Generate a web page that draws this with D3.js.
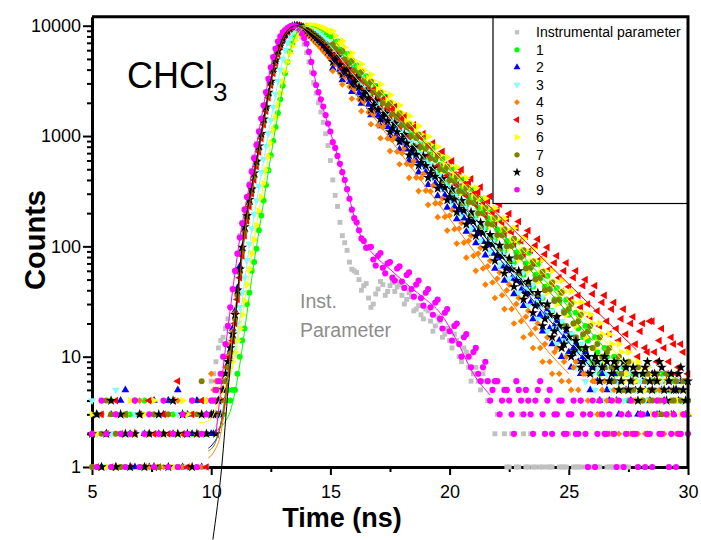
<!DOCTYPE html>
<html>
<head>
<meta charset="utf-8">
<script src="https://cdn.jsdelivr.net/npm/d3@7"></script>
<style>
  body { margin: 0; background: #fff; }
  svg { display: block; font-family: "Liberation Sans", Arial, sans-serif; }
</style>
</head>
<body>
<div id="chart"></div>
<script>
// decay channels (ns)
const timeNs = [
  5.0,5.2,5.4,5.6,5.8,6.0,6.2,6.4,6.6,6.8,7.0,7.2,7.4,7.6,7.8,8.0,8.2,8.4,8.6,8.8,9.0,9.2,9.4,9.6,9.8,10.0,
  10.1,10.2,10.3,10.4,10.5,10.6,10.7,10.8,10.9,11.0,
  11.1,11.2,11.3,11.4,11.5,11.6,11.7,11.8,11.9,12.0,
  12.1,12.2,12.3,12.4,12.5,12.6,12.7,12.8,12.9,13.0,
  13.1,13.2,13.3,13.4,13.5,13.6,13.7,13.8,13.9,14.0,
  14.1,14.2,14.3,14.4,14.5,14.6,14.7,14.8,14.9,15.0,
  15.2,15.4,15.6,15.8,16.0, 16.2,16.4,16.6,16.8,17.0, 17.2,17.4,17.6,17.8,18.0,
  18.2,18.4,18.6,18.8,19.0, 19.2,19.4,19.6,19.8,20.0, 20.2,20.4,20.6,20.8,21.0,
  21.2,21.4,21.6,21.8,22.0, 22.2,22.4,22.6,22.8,23.0, 23.2,23.4,23.6,23.8,24.0,
  24.2,24.4,24.6,24.8,25.0, 25.2,25.4,25.6,25.8,26.0, 26.2,26.4,26.6,26.8,27.0,
  27.2,27.4,27.6,27.8,28.0, 28.2,28.4,28.6,28.8,29.0, 29.2,29.4,29.6,29.8,30.0
];
// in-between channels of the decay part (ns)
const timeNsOdd = [
  15.1,15.3,15.5,15.7,15.9, 16.1,16.3,16.5,16.7,16.9, 17.1,17.3,17.5,17.7,17.9,
  18.1,18.3,18.5,18.7,18.9, 19.1,19.3,19.5,19.7,19.9, 20.1,20.3,20.5,20.7,20.9,
  21.1,21.3,21.5,21.7,21.9, 22.1,22.3,22.5,22.7,22.9, 23.1,23.3,23.5,23.7,23.9,
  24.1,24.3,24.5,24.7,24.9, 25.1,25.3,25.5,25.7,25.9, 26.1,26.3,26.5,26.7,26.9,
  27.1,27.3,27.5,27.7,27.9, 28.1,28.3,28.5,28.7,28.9, 29.1,29.3,29.5,29.7,29.9
];

// counts per channel (0 = empty channel, not drawn on the log axis)
const instCounts = [
  1,2,0,1,2,1,3,1,0,2,1,2,1,0,1,2,1,1,2,0,1,2,1,2,3,6,
  7,9,12,14,15,18,22,28,40,58,
  85,125,165,220,285,370,490,650,860,1120,
  1450,1880,2420,3100,3900,4800,5800,6800,7700,8500,
  9100,9550,9850,10000,9900,9500,8800,7900,6800,5700,
  4700,3800,3050,2450,2000,1650,1330,1050,820,600,
  290,165,108,72,60, 50,44,34,30,41, 45,39,47,43,36,
  33,35,27,24,27, 21,19,21,16,14, 16,10,12,8,7,
  6,7,4,5,3, 4,1,2,1,3, 1,2,1,1,2,
  1,0,1,1,2, 1,1,0,1,1, 1,0,1,1,0,
  1,1,0,0,0, 0,0,0,0,0, 0,0,0,0,0
];
const instCountsOdd = [
  400,230,125,92,62, 58,40,46,28,37, 48,36,44,39,45, 30,38,26,29,22, 26,17,23,15,18,
  12,14,9,11,6, 8,5,6,4,2, 3,2,1,2,1, 2,1,1,0,1, 1,1,0,1,1, 0,1,1,1,0,
  1,1,0,1,1, 1,0,1,0,0, 0,0,0,0,0, 0,0,0,0,0
];
const counts1 = [
  2,3,1,2,4,3,1,2,3,2,1,4,2,3,1,2,4,3,2,1,3,2,4,3,2,4,
  3,4,3,4,3,4,5,4,5,5,
  7,10,14,18,30,38,60,72,95,140,
  190,260,360,490,670,900,1200,1620,2150,2850,
  3700,4700,5800,6900,7900,8700,9300,9700,9920,10000,
  9980,9900,9760,9580,9370,9130,8870,8600,8320,8030,
  7050,6100,5500,4650,4150, 3650,3250,2980,2620,2390, 2080,1930,1670,1550,1330,
  1240,1060,990,840,790, 680,620,545,500,440, 405,350,325,280,260,
  225,205,180,164,142, 130,112,104,88,82, 70,64,55,51,43,
  40,33,31,26,24, 20,18,15,14,12, 11,9,10,8,7,
  6,7,5,6,5, 6,4,5,6,4, 5,6,4,5,4
];
const counts1Odd = [
  6770,7210,5100,5560,3870, 4360,2990,3490,2400,2850, 1920,2280,1530,1850,1220,
  1490,963,1190,757,962, 601,766,476,626,375, 506,301,411,236,329,
  189,269,146,215,116, 174,91,138,71,110, 55,87,43,69,34,
  54,26,42,20,33, 16,25,12,19,9, 15,7,12,6,10,
  5,8,4,7,4, 7,4,6,4,7, 3,7,4,6,4
];
const counts2 = [
  2,3,1,2,3,1,4,5,2,1,3,2,1,4,2,3,4,2,5,1,3,2,4,1,3,2,
  2,3,3,4,6,6,10,11,18,26,
  42,66,95,142,200,250,345,440,610,790,
  1070,1390,1860,2430,3170,3980,4920,5860,6870,7680,
  8470,9030,9510,9800,9980,9990,9850,9600,9240,8850,
  8480,8120,7790,7430,7080,6760,6390,5960,5600,5250,
  4470,4010,3580,3110,2830, 2460,2240,1930,1770,1540, 1400,1210,1110,960,880,
  760,700,595,550,470, 435,372,345,290,272, 230,212,180,168,142,
  132,110,104,86,81, 66,64,51,50,40, 39,31,30,24,24,
  18,19,14,15,11, 12,9,10,7,8, 6,7,5,6,4,
  6,5,4,5,3, 5,4,6,3,4, 5,3,4,5,3
];
const counts2Odd = [
  4120,4650,3220,3670,2520, 2900,1970,2330,1550,1850, 1230,1460,960,1180,760,
  930,600,740,470,585, 362,475,286,373,225, 300,177,234,136,185,
  107,147,83,116,63, 91,49,71,37,57, 29,45,22,35,17,
  27,13,21,10,17, 8,13,7,11,5, 9,4,8,4,7,
  3,7,3,6,3, 6,3,7,3,5, 6,3,5,6,3
];
const counts3 = [
  4,2,3,1,2,5,3,2,1,3,4,2,1,3,2,4,1,2,3,2,1,4,2,3,1,4,
  3,4,3,5,5,6,8,9,12,14,
  20,28,38,52,75,105,145,195,260,350,
  470,620,810,1060,1390,1830,2400,3150,4000,5000,
  6000,7000,7850,8550,9100,9500,9800,9960,10000,9960,
  9850,9680,9400,9080,8700,8300,7880,7450,7000,6550,
  5720,5000,4520,3900,3560, 3100,2820,2450,2230,1940, 1770,1530,1400,1210,1110,
  950,880,750,700,590, 550,470,440,370,345, 285,262,222,200,172,
  150,140,118,110,92, 86,70,66,54,50, 41,39,31,30,24,
  23,18,18,14,14, 11,11,9,9,7, 8,6,7,5,6,
  7,5,6,5,6, 4,5,3,5,4, 3,5,4,3,4
];
const counts3Odd = [
  6730,4700,5230,3700,4100, 2920,3310,2290,2620,1790, 2110,1420,1670,1110,1330,
  875,1060,680,840,540, 672,417,537,330,428, 251,328,193,253,144,
  196,113,156,89,126, 68,97,51,77,38, 58,29,45,22,35,
  17,26,13,21,10, 16,8,13,6,10, 5,9,4,8,4,
  8,4,7,4,7, 3,6,5,3,6, 4,3,6,4,5
];
const counts4 = [
  2,1,3,2,4,1,2,3,1,2,4,2,1,3,2,1,3,2,4,1,2,3,2,1,4,7,
  5,6,5,6,7,8,10,13,17,25,
  37,60,92,140,200,255,350,450,590,790,
  1040,1400,1840,2440,3150,4000,4900,5900,6800,7700,
  8450,9050,9500,9800,9960,10000,9850,9550,9150,8600,
  8150,7750,7300,6950,6600,6250,5900,5600,5300,5000,
  4500,3700,3450,2800,2650, 2150,2050,1640,1560,1250, 1200,950,920,720,700,
  560,540,420,415,320, 315,245,245,185,190, 143,145,108,112,82,
  86,63,66,47,51, 36,40,27,30,21, 23,16,18,12,13,
  9,11,7,9,6, 8,5,7,4,6, 3,5,4,2,4,
  3,5,2,4,3, 2,4,3,5,2, 3,4,2,3,4
];
const counts4Odd = [
  3890,4810,2930,3730,2180, 2870,1680,2200,1280,1700, 955,1300,730,990,555,
  780,418,595,317,455, 238,356,184,272,139, 214,106,163,79,125,
  60,97,45,74,34, 58,27,45,20,34, 15,26,12,20,9,
  15,7,12,6,10, 5,9,4,7,3, 6,3,6,2,5,
  2,5,2,4,2, 4,2,5,3,4, 3,5,2,4,3
];
const counts5 = [
  2,1,3,2,1,4,2,3,1,2,3,1,4,2,1,3,2,4,6,2,1,3,2,4,1,3,
  3,4,3,5,4,6,8,10,14,20,
  33,52,82,125,170,230,300,400,530,720,
  950,1270,1680,2230,2900,3700,4550,5500,6450,7350,
  8150,8800,9300,9650,9880,9990,10000,9880,9650,9300,
  8950,8600,8250,7920,7600,7240,6890,6570,6250,5960,
  5550,4780,4560,3930,3750, 3230,3100,2650,2550,2180, 2110,1790,1740,1470,1430,
  1200,1190,985,975,810, 810,665,670,545,550, 445,455,365,375,300,
  310,245,258,200,215, 165,178,135,148,112, 124,92,102,76,85,
  62,71,52,60,43, 52,36,44,30,37, 26,31,21,27,18,
  22,16,20,13,17, 12,21,11,14,12, 9,13,8,11,7
];
const counts5Odd = [
  5060,5670,4110,4660,3340, 3900,2720,3210,2240,2690, 1820,2210,1500,1840,1220,
  1520,990,1260,800,1050, 665,866,534,725,438, 594,360,497,289,409,
  238,345,191,284,157, 241,128,198,104,168, 85,139,70,116,56,
  98,46,82,39,71, 33,60,28,50,23, 44,19,36,16,31,
  14,27,12,23,10, 20,11,21,9,18, 7,15,7,13,6
];
const counts6 = [
  3,2,4,1,3,2,1,3,4,2,1,3,2,4,1,2,3,1,2,4,3,1,2,3,4,3,
  4,3,4,5,5,6,7,8,9,11,
  14,18,24,32,45,62,86,115,155,210,
  280,370,490,650,860,1140,1480,1920,2450,3100,
  3850,4700,5600,6500,7350,8100,8750,9250,9600,9830,
  9950,10000,9990,9930,9820,9680,9510,9320,9100,8880,
  8100,6900,6350,5250,4850, 4100,3950,3300,3150,2640, 2530,2110,2030,1690,1620,
  1350,1300,1080,1040,860, 835,690,665,550,535, 440,430,350,345,280,
  276,225,222,178,178, 142,143,113,115,90, 92,72,74,57,60,
  45,48,36,39,28, 31,22,25,17,20, 14,16,11,13,9,
  11,7,9,6,8, 5,7,4,6,5, 3,5,4,6,3
];
const counts6Odd = [
  8900,6730,7280,5080,5650, 3920,4500,3140,3610,2480, 2940,1990,2360,1570,1900,
  1260,1520,995,1230,795, 990,630,800,496,640, 398,522,310,417,249,
  339,199,272,155,222, 124,178,97,146,76, 118,60,95,48,76,
  38,60,30,49,24, 39,19,31,15,24, 12,20,9,16,8,
  13,6,11,5,9, 4,8,3,7,4, 6,3,6,3,5
];
const counts7 = [
  1,3,2,4,3,2,1,3,2,4,3,1,2,3,1,2,3,2,1,3,2,4,3,6,2,3,
  3,4,3,4,5,6,8,11,15,22,
  36,58,90,135,185,250,320,430,565,760,
  1000,1340,1760,2340,3030,3880,4750,5750,6700,7600,
  8350,8980,9430,9760,9940,10000,9960,9820,9590,9300,
  9000,8700,8400,8100,7800,7500,7200,6900,6620,6350,
  6200,5800,4950,4650,3950, 3700,3130,2950,2500,2360, 1990,1880,1580,1500,1260,
  1200,1000,960,795,765, 630,610,500,487,398, 390,317,311,252,248,
  200,199,160,158,127, 126,100,101,80,80, 63,64,50,52,40,
  41,32,33,25,27, 20,21,16,17,12, 13,10,11,8,9,
  7,8,6,7,5, 6,5,6,4,5, 6,4,5,6,4
];
const counts7Odd = [
  6770,5280,5900,4220,4800, 3320,3810,2610,3100,2090, 2470,1640,1980,1310,1600,
  1030,1270,813,1030,640, 819,508,662,395,528, 315,429,245,342,195,
  279,151,223,121,182, 95,143,74,117,58, 92,46,73,37,59,
  29,47,23,38,19, 30,15,24,12,19, 9,15,8,12,6,
  10,5,9,5,8, 4,7,4,7,3, 7,4,6,4,6
];
const counts8 = [
  2,3,1,2,4,1,3,2,1,2,3,1,2,1,3,2,1,4,2,3,2,1,2,3,2,3,
  3,2,4,3,5,7,9,12,16,24,
  40,62,98,150,190,265,330,460,590,810,
  1050,1420,1830,2480,3120,4030,4870,5920,6830,7720,
  8430,9070,9480,9820,9960,10000,9890,9660,9280,8920,
  8580,8300,7940,7680,7320,7050,6590,6260,5850,5560,
  4880,4420,3860,3490,3050, 2770,2400,2190,1890,1730, 1500,1370,1180,1090,930,
  860,730,680,575,540, 455,430,355,340,280, 268,220,212,172,168,
  136,133,106,104,83, 81,63,62,49,47, 37,38,29,30,22,
  24,17,19,13,15, 11,12,9,10,8, 9,8,9,7,8,
  6,8,6,7,5, 8,6,7,9,5, 6,5,7,5,6
];
const counts8Odd = [
  4700,5200,3640,4040,2940, 3340,2240,2520,1730,2080, 1420,1600,1090,1300,890,
  1030,670,790,540,660, 420,510,335,410,262, 330,204,260,158,204,
  124,164,97,128,74, 102,57,78,43,60, 33,48,25,38,19,
  30,15,23,12,18, 10,14,8,12,7, 10,6,10,6,9,
  5,9,5,8,4, 7,9,5,6,8, 4,7,5,8,4
];
const counts9 = [
  2,1,4,2,1,3,2,1,2,4,1,2,3,1,2,4,1,2,1,3,2,4,1,2,3,4,
  4,5,6,7,10,13,19,28,41,60,
  86,120,162,215,280,360,475,630,830,1100,
  1440,1900,2500,3300,4200,5200,6200,7200,8000,8700,
  9150,9500,9800,10000,9950,9700,9200,8500,7700,6900,
  5800,4700,3700,2900,2500,2150,1850,1550,1300,1100,
  780,560,400,270,180, 140,112,98,76,82, 64,70,52,63,48,
  55,41,45,34,38, 28,31,22,25,17, 19,13,15,10,11,
  7,8,6,5,6, 4,5,3,6,4, 5,3,4,6,2,
  5,3,4,2,3, 4,2,3,1,4, 2,3,2,4,1,
  3,2,4,2,3, 1,2,3,2,4, 1,3,2,3,2
];
const counts9Odd = [
  880,660,470,330,215, 165,118,97,99,67, 87,57,72,49,66,
  42,58,35,49,29, 41,24,33,18,27, 14,20,10,16,8,
  12,6,9,4,6, 3,5,4,2,5, 3,4,2,5,3,
  4,2,3,4,2, 3,2,4,2,3, 1,4,2,3,2,
  4,1,3,2,1, 3,2,1,4,2, 3,2,1,2,3
];

// fitted decay curves: [time ns, counts]
const fit1 = [[10.3,2.2],[10.6,2.6],[10.8,3.2],[11.0,4.8],[11.2,8.5],[11.4,17],[11.6,36],[11.8,72],[12.0,135],[12.2,255],[12.4,480],[12.6,880],[12.8,1580],[13.0,2750],[13.2,4600],[13.4,6800],[13.6,8650],[13.8,9700],[14.0,10000],[14.3,9780],[14.6,9150],[15.0,8000],[15.5,6000],[16.4,3300],[18,1330],[20,445],[22,148],[24,49],[26.5,12]];
const fit2 = [[9.88,1.48],[10.09,1.64],[10.3,2.0],[10.5,3.2],[10.7,7],[10.9,15],[11.1,38],[11.3,92],[11.5,190],[11.7,340],[11.9,600],[12.1,1060],[12.3,1850],[12.5,3150],[12.7,4900],[12.9,6850],[13.1,8450],[13.3,9500],[13.5,9960],[13.7,9850],[14.0,8850],[14.5,7080],[15.0,5250],[16,2830],[18,880],[20,272],[22,82],[24,24],[26,7.7]];
const fit3 = [[10.1,2.2],[10.4,3],[10.7,5.5],[11.0,11],[11.2,22],[11.4,48],[11.6,100],[11.8,190],[12.0,345],[12.2,610],[12.4,1060],[12.6,1820],[12.8,3100],[13.0,4950],[13.2,6950],[13.4,8550],[13.6,9500],[13.8,9960],[14.0,9960],[14.5,8700],[15.0,6550],[16,3540],[18,1090],[20,340],[22,96],[24,26],[26,8.3]];
const fit4 = [[9.88,1.2],[10.16,1.43],[10.37,1.88],[10.55,3.2],[10.75,8],[10.95,20],[11.15,46],[11.35,110],[11.6,255],[11.8,450],[12.0,790],[12.2,1400],[12.4,2440],[12.6,4000],[12.8,5900],[13.0,7700],[13.2,9050],[13.4,9800],[13.6,10000],[13.8,9550],[14.0,8600],[14.5,6600],[15.0,5000],[16,2570],[18,675],[20,178],[22,47],[24,12],[25,7]];
const fit5 = [[10.16,2.09],[10.37,2.3],[10.55,3.5],[10.75,7.5],[10.95,16],[11.15,40],[11.35,100],[11.6,230],[11.8,400],[12.0,720],[12.2,1270],[12.4,2230],[12.6,3700],[12.8,5500],[13.0,7350],[13.2,8800],[13.4,9650],[13.7,10000],[14.0,9300],[14.5,7600],[15.0,5960],[16,3660],[18,1380],[20,520],[22,197],[24,74],[26,28],[27.84,11.5]];
const fit6 = [[9.46,2.5],[9.95,2.67],[10.3,3.8],[10.58,5.3],[10.8,7],[11.0,10],[11.2,17],[11.4,31],[11.6,60],[11.8,113],[12.0,208],[12.2,370],[12.4,650],[12.6,1140],[12.8,1920],[13.0,3100],[13.2,4700],[13.4,6500],[13.6,8100],[13.8,9250],[14.0,9830],[14.2,10000],[14.5,9820],[15.0,8880],[15.6,6200],[16.4,3800],[18,1560],[20,514],[22,169],[24,56],[26,18.4],[27.4,8.5]];
const fit7 = [[9.88,1.4],[10.1,1.55],[10.3,2.0],[10.5,3.2],[10.7,6.8],[10.9,14],[11.1,34],[11.3,88],[11.5,185],[11.7,320],[11.9,565],[12.1,1000],[12.3,1760],[12.5,3030],[12.7,4750],[12.9,6700],[13.1,8350],[13.3,9430],[13.6,10000],[13.9,9590],[14.2,8700],[14.6,7500],[15.2,6350],[16,4040],[18,1300],[20,419],[22,135],[24,43],[26,14]];
const fit8 = [[10.07,0.22],[10.44,1],[10.72,5.3],[11.0,21],[11.2,62],[11.4,150],[11.6,265],[11.8,455],[12.0,800],[12.2,1410],[12.4,2450],[12.6,4000],[12.8,5900],[13.0,7700],[13.2,9050],[13.4,9800],[13.6,10000],[13.8,9650],[14.0,8900],[14.5,7330],[15,5540],[16,3060],[18,950],[20,293],[22,90],[24,28],[26,8.7]];
const fit9 = [[10.2,2],[10.4,5],[10.6,12],[10.8,27],[11.0,58],[11.2,118],[11.4,212],[11.6,355],[11.8,625],[12.0,1090],[12.2,1890],[12.4,3280],[12.6,5150],[12.8,7150],[13.0,8700],[13.2,9500],[13.4,10000],[13.6,9700],[13.8,8500],[14.0,6900],[14.2,4750],[14.4,3000],[14.6,2100],[14.8,1500],[15.0,1080],[15.4,560],[15.8,270],[16.0,185],[16.3,120],[16.8,85],[17.5,62],[18.33,43],[19.0,33],[19.6,25],[20.3,14],[21.0,7],[21.7,4.5]];

const legendLabels = ["Instrumental parameter", "1", "2", "3", "4", "5", "6", "7", "8", "9"];
const yMajorTicks = [1, 10, 100, 1000, 10000];
const yMinorTicks = [2,3,4,5,6,7,8,9, 20,30,40,50,60,70,80,90, 200,300,400,500,600,700,800,900, 2000,3000,4000,5000,6000,7000,8000,9000];
const xMajorTicks = [5, 10, 15, 20, 25, 30];
const xMinorTicks = [7.5, 12.5, 17.5, 22.5, 27.5];

// marker styles, same order as legendLabels
const styles = [
  { color: "#c0c0c0", type: d3.symbolSquare, size: 24, rot: 0 },
  { color: "#00ff00", type: d3.symbolCircle, size: 28, rot: 0 },
  { color: "#0000ff", type: d3.symbolTriangle, size: 26, rot: 0 },
  { color: "#80ffff", type: d3.symbolTriangle, size: 26, rot: 180 },
  { color: "#ff8000", type: d3.symbolSquare, size: 22, rot: 45 },
  { color: "#ff0000", type: d3.symbolTriangle, size: 26, rot: -90 },
  { color: "#ffff00", type: d3.symbolTriangle, size: 26, rot: 90 },
  { color: "#808000", type: d3.symbolCircle, size: 28, rot: 0 },
  { color: "#000000", type: d3.symbolStar, size: 32, rot: 0 },
  { color: "#ff00ff", type: d3.symbolCircle, size: 30, rot: 0 }
];

const allCounts = [instCounts, counts1, counts2, counts3, counts4, counts5, counts6, counts7, counts8, counts9];
const allCountsOdd = [instCountsOdd, counts1Odd, counts2Odd, counts3Odd, counts4Odd, counts5Odd, counts6Odd, counts7Odd, counts8Odd, counts9Odd];
const allFits = [null, fit1, fit2, fit3, fit4, fit5, fit6, fit7, fit8, fit9];

const plot = { left: 92, right: 688, top: 16.7, bottom: 467 };

const svg = d3.select("#chart").append("svg")
  .attr("width", 701)
  .attr("height", 540);

const x = d3.scaleLinear().domain([5, 30]).range([plot.left, plot.right]);
const y = d3.scaleLog().domain([1, 12070]).range([plot.bottom, plot.top]);

// Y axis
const yAxis = svg.append("g")
  .attr("transform", `translate(${plot.left},0)`)
  .call(d3.axisLeft(y).tickValues(yMajorTicks).tickFormat(d3.format("d"))
    .tickSize(9).tickSizeOuter(0).tickPadding(2));
const yMinor = svg.append("g")
  .attr("transform", `translate(${plot.left},0)`)
  .call(d3.axisLeft(y).tickValues(yMinorTicks).tickFormat("").tickSize(5).tickSizeOuter(0));
yMinor.select(".domain").remove();

// X axis
const xAxis = svg.append("g")
  .attr("transform", `translate(0,${plot.bottom})`)
  .call(d3.axisBottom(x).tickValues(xMajorTicks).tickFormat(d3.format("d"))
    .tickSize(8).tickSizeOuter(0).tickPadding(10));
const xMinor = svg.append("g")
  .attr("transform", `translate(0,${plot.bottom})`)
  .call(d3.axisBottom(x).tickValues(xMinorTicks).tickFormat("").tickSize(5).tickSizeOuter(0));
xMinor.select(".domain").remove();

[yAxis, xAxis].forEach(g => {
  g.attr("font-family", null).attr("font-size", null);
  g.select(".domain").attr("stroke", "#000").attr("stroke-width", 3);
  g.selectAll("text").attr("font-size", 18).attr("fill", "#000");
});
[yAxis, yMinor, xAxis, xMinor].forEach(g => {
  g.selectAll(".tick line").attr("stroke", "#000").attr("stroke-width", 2);
});

// scatter
allCounts.forEach((counts, i) => {
  const st = styles[i];
  const odd = allCountsOdd[i];
  if (counts.length !== timeNs.length) console.warn("length mismatch", i, counts.length);
  if (odd.length !== timeNsOdd.length) console.warn("odd length mismatch", i, odd.length);
  const pts = d3.zip(timeNs, counts).concat(d3.zip(timeNsOdd, odd))
    .filter(d => d[1] > 0)
    .sort((a, b) => a[0] - b[0]);
  const sym = d3.symbol().type(st.type).size(st.size)();
  svg.append("g")
    .selectAll("path")
    .data(pts)
    .join("path")
    .attr("d", sym)
    .attr("fill", st.color)
    .attr("transform", d => `translate(${x(d[0])},${y(d[1])}) rotate(${st.rot})`);
});

// fitted lines
const line = d3.line()
  .x(d => x(d[0]))
  .y(d => y(d[1]))
  .curve(d3.curveMonotoneX);

allFits.forEach((fit, i) => {
  if (!fit) return;
  svg.append("path")
    .attr("d", line(fit))
    .attr("fill", "none")
    .attr("stroke", styles[i].color)
    .attr("stroke-width", 1);
});

// legend
const legend = svg.append("g");
legend.append("rect")
  .attr("x", 493).attr("y", plot.top)
  .attr("width", plot.right - 493).attr("height", 203.5 - plot.top)
  .attr("fill", "#fff").attr("stroke", "#000").attr("stroke-width", 1.2);
legendLabels.forEach((lab, i) => {
  const st = styles[i];
  const cy = 32.3 + i * 17.5;
  legend.append("path")
    .attr("d", d3.symbol().type(st.type).size(st.size * 0.8)())
    .attr("fill", st.color)
    .attr("transform", `translate(517,${cy}) rotate(${st.rot})`);
  legend.append("text")
    .attr("x", 536).attr("y", cy + 5)
    .attr("font-size", 14)
    .text(lab);
});

// frame top and right
svg.append("path")
  .attr("d", `M${plot.left},${plot.top}H${plot.right}V${plot.bottom}`)
  .attr("fill", "none").attr("stroke", "#000").attr("stroke-width", 3);

// annotations
const chem = svg.append("text").attr("x", 127).attr("y", 88).attr("font-size", 36);
chem.append("tspan").text("CHCl");
chem.append("tspan").attr("font-size", 26).attr("dy", 13).text("3");

svg.append("text").attr("x", 300).attr("y", 308).attr("font-size", 19.5).attr("fill", "#8c8c8c").text("Inst.");
svg.append("text").attr("x", 300).attr("y", 337).attr("font-size", 19.5).attr("fill", "#8c8c8c").text("Parameter");

// axis titles
svg.append("text")
  .attr("transform", "translate(45,240) rotate(-90)")
  .attr("text-anchor", "middle")
  .attr("font-size", 29).attr("font-weight", "bold")
  .text("Counts");
svg.append("text")
  .attr("x", 342).attr("y", 527)
  .attr("text-anchor", "middle")
  .attr("font-size", 27).attr("font-weight", "bold")
  .text("Time (ns)");
</script>
</body>
</html>
